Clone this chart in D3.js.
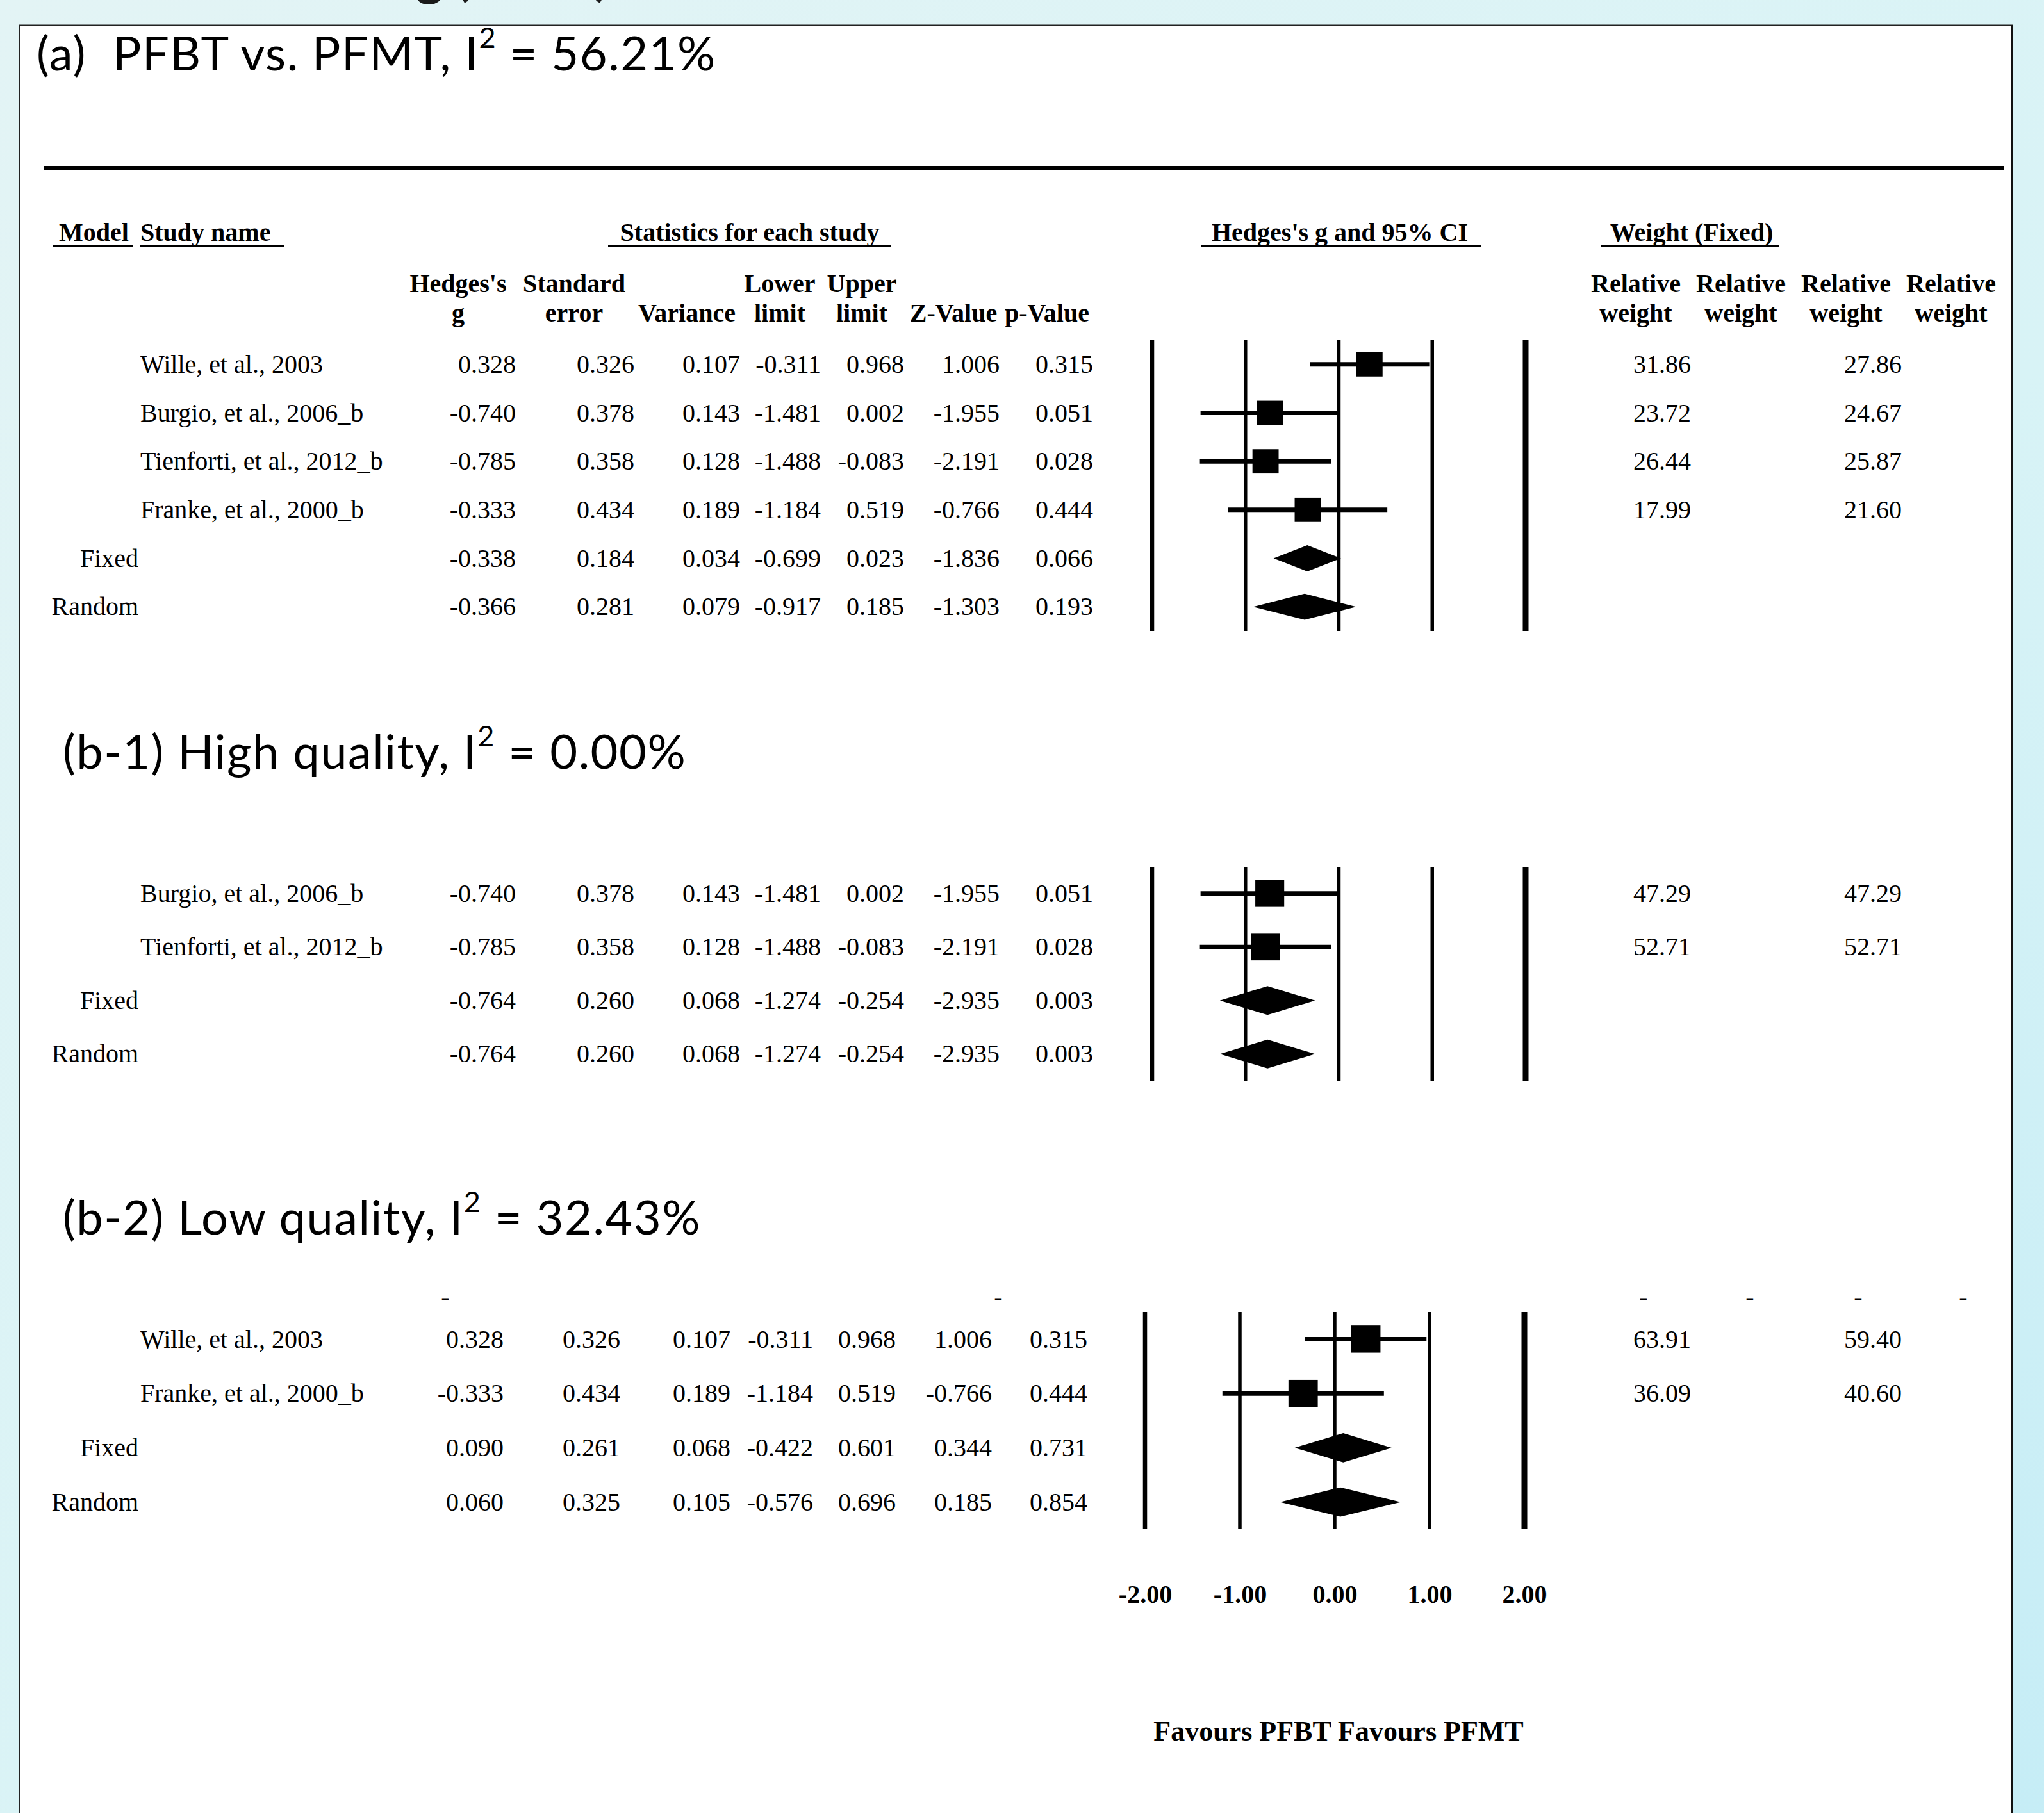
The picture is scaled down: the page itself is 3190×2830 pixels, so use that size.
<!DOCTYPE html>
<html>
<head>
<meta charset="utf-8">
<script src="https://cdn.jsdelivr.net/npm/d3@7"></script>
<style>
  body { margin: 0; }
  svg { display: block; }
</style>
</head>
<body>
<div id="chart"></div>
<script>
const W = 3190, H = 2830;

// (a) PFBT vs. PFMT
const aStudies = ["Wille, et al., 2003", "Burgio, et al., 2006_b", "Tienforti, et al., 2012_b", "Franke, et al., 2000_b", "Fixed", "Random"];
const aG     = [0.328, -0.740, -0.785, -0.333, -0.338, -0.366];
const aSE    = [0.326, 0.378, 0.358, 0.434, 0.184, 0.281];
const aVar   = [0.107, 0.143, 0.128, 0.189, 0.034, 0.079];
const aLower = [-0.311, -1.481, -1.488, -1.184, -0.699, -0.917];
const aUpper = [0.968, 0.002, -0.083, 0.519, 0.023, 0.185];
const aZ     = [1.006, -1.955, -2.191, -0.766, -1.836, -1.303];
const aP     = [0.315, 0.051, 0.028, 0.444, 0.066, 0.193];
const aWFixed  = [31.86, 23.72, 26.44, 17.99];
const aWRandom = [27.86, 24.67, 25.87, 21.60];

// (b-1) high quality
const b1Studies = ["Burgio, et al., 2006_b", "Tienforti, et al., 2012_b", "Fixed", "Random"];
const b1G     = [-0.740, -0.785, -0.764, -0.764];
const b1SE    = [0.378, 0.358, 0.260, 0.260];
const b1Var   = [0.143, 0.128, 0.068, 0.068];
const b1Lower = [-1.481, -1.488, -1.274, -1.274];
const b1Upper = [0.002, -0.083, -0.254, -0.254];
const b1Z     = [-1.955, -2.191, -2.935, -2.935];
const b1P     = [0.051, 0.028, 0.003, 0.003];
const b1WFixed  = [47.29, 52.71];
const b1WRandom = [47.29, 52.71];

// (b-2) low quality
const b2Studies = ["Wille, et al., 2003", "Franke, et al., 2000_b", "Fixed", "Random"];
const b2G     = [0.328, -0.333, 0.090, 0.060];
const b2SE    = [0.326, 0.434, 0.261, 0.325];
const b2Var   = [0.107, 0.189, 0.068, 0.105];
const b2Lower = [-0.311, -1.184, -0.422, -0.576];
const b2Upper = [0.968, 0.519, 0.601, 0.696];
const b2Z     = [1.006, -0.766, 0.344, 0.185];
const b2P     = [0.315, 0.444, 0.731, 0.854];
const b2WFixed  = [63.91, 36.09];
const b2WRandom = [59.40, 40.60];

const ticks = [-2, -1, 0, 1, 2];
const subHeads = [["Hedges's", "g"], ["Standard", "error"], ["", "Variance"], ["Lower", "limit"], ["Upper", "limit"], ["", "Z-Value"], ["", "p-Value"]];

const serif = "'Liberation Serif', 'Times New Roman', serif";
const sans = "Lato, 'Open Sans', sans-serif";

const locale = d3.formatLocale({decimal: ".", thousands: ",", grouping: [3], currency: ["", ""], minus: "-"});
const f3 = locale.format(".3f");
const f2 = locale.format(".2f");

let svg = d3.select("#chart")
    .append("svg")
    .attr("width", W)
    .attr("height", H);

// slide background
let defs = svg.append("defs");
let grad = defs.append("linearGradient")
    .attr("id", "bg")
    .attr("x1", "0").attr("y1", "0").attr("x2", "1").attr("y2", "1");
grad.append("stop").attr("offset", "0").attr("stop-color", "#e3f4f5");
grad.append("stop").attr("offset", "0.6").attr("stop-color", "#d8f3f6");
grad.append("stop").attr("offset", "1").attr("stop-color", "#c6edf6");

svg.append("rect").attr("width", W).attr("height", H).attr("fill", "url(#bg)");

// slide heading, mostly above the visible area
svg.append("text")
    .attr("x", 950).attr("y", -8)
    .attr("text-anchor", "end")
    .style("font-family", sans).style("font-weight", "bold").style("font-size", "80px")
    .attr("fill", "#1a1a1a")
    .text("rating (PFBT)");

// white panel
svg.append("rect")
    .attr("x", 30).attr("y", 39.5)
    .attr("width", 3110).attr("height", H)
    .attr("fill", "#fff")
    .attr("stroke", "#222").attr("stroke-width", 2);
svg.append("line")
    .attr("x1", 3140).attr("x2", 3140).attr("y1", 39).attr("y2", H)
    .attr("stroke", "#111").attr("stroke-width", 4);

// panel titles with superscript
function title(x, y, lead, rest) {
    let t = svg.append("text")
        .attr("x", x).attr("y", y)
        .style("font-family", sans).style("font-size", "74px")
        .style("letter-spacing", "1.5px")
        .attr("fill", "#000");
    t.append("tspan").attr("xml:space", "preserve").text(lead);
    t.append("tspan").attr("dy", -35).style("font-size", "45px").text("2");
    t.append("tspan").attr("dy", 35).attr("xml:space", "preserve").text(rest);
    return t;
}
title(57, 110, "(a)  PFBT vs. PFMT, I", " = 56.21%");
title(98, 1200, "(b-1) High quality, I", " = 0.00%");
title(98, 1927, "(b-2) Low quality, I", " = 32.43%");

// thick rule
svg.append("line")
    .attr("x1", 68).attr("x2", 3128).attr("y1", 262.5).attr("y2", 262.5)
    .attr("stroke", "#000").attr("stroke-width", 7);

// column headers
let head = svg.append("g")
    .style("font-family", serif).style("font-size", "40px").style("font-weight", "bold");

let headers = [
    {t: "Model", x: 92, x1: 83, x2: 207, a: "start"},
    {t: "Study name", x: 219, x1: 219, x2: 443, a: "start"},
    {t: "Statistics for each study", x: 1170, x1: 949, x2: 1390, a: "middle"},
    {t: "Hedges's g and 95% CI", x: 2091, x1: 1874, x2: 2312, a: "middle"},
    {t: "Weight (Fixed)", x: 2640, x1: 2499, x2: 2777, a: "middle"}
];
head.selectAll(".h").data(headers).enter().append("text")
    .attr("x", d => d.x).attr("y", 376)
    .attr("text-anchor", d => d.a)
    .text(d => d.t);
head.selectAll(".u").data(headers).enter().append("line")
    .attr("x1", d => d.x1).attr("x2", d => d.x2)
    .attr("y1", 384).attr("y2", 384)
    .attr("stroke", "#000").attr("stroke-width", 3);

let subX = d3.scaleOrdinal().domain(d3.range(7)).range([715, 896, 1072, 1217, 1345, 1488, 1634]);
subHeads.forEach(function(p, i) {
    head.append("text").attr("x", subX(i)).attr("y", 456).attr("text-anchor", "middle").text(p[0]);
    head.append("text").attr("x", subX(i)).attr("y", 502).attr("text-anchor", "middle").text(p[1]);
});
let relX = d3.scaleOrdinal().domain(d3.range(4)).range([2553, 2717, 2881, 3045]);
d3.range(4).forEach(function(i) {
    head.append("text").attr("x", relX(i)).attr("y", 456).attr("text-anchor", "middle").text("Relative");
    head.append("text").attr("x", relX(i)).attr("y", 502).attr("text-anchor", "middle").text("weight");
});

// one block of table + forest plot
function drawPanel(p, yRange, colRight, x) {
    let g = svg.append("g");
    let n = p.names.length;
    let y = d3.scalePoint().domain(d3.range(n)).range(yRange).padding(0.5);
    let step = y.step();

    let txt = g.append("g")
        .style("font-family", serif).style("font-size", "40px").attr("fill", "#000");

    p.names.forEach(function(name, i) {
        let summary = (name === "Fixed" || name === "Random");
        txt.append("text")
            .attr("x", summary ? 216 : 219)
            .attr("y", y(i)).attr("dy", "0.33em")
            .attr("text-anchor", summary ? "end" : "start")
            .text(name);
        let cols = [p.g[i], p.se[i], p.vr[i], p.lo[i], p.up[i], p.z[i], p.p[i]];
        cols.forEach(function(v, j) {
            txt.append("text")
                .attr("x", colRight(j)).attr("y", y(i)).attr("dy", "0.33em")
                .attr("text-anchor", "end")
                .text(f3(v));
        });
        if (i < p.wf.length) {
            txt.append("text").attr("x", 2639).attr("y", y(i)).attr("dy", "0.33em")
                .attr("text-anchor", "end").text(f2(p.wf[i]));
            txt.append("text").attr("x", 2968).attr("y", y(i)).attr("dy", "0.33em")
                .attr("text-anchor", "end").text(f2(p.wr[i]));
        }
    });

    // reference lines at each tick
    g.selectAll(".ref").data(ticks).enter().append("line")
        .attr("x1", d => x(d)).attr("x2", d => x(d))
        .attr("y1", yRange[0]).attr("y2", yRange[1])
        .attr("stroke", "#000")
        .attr("stroke-width", d => d === 2 ? 9 : (d === -2 ? 6.5 : 5.5));

    let rows = d3.range(n);
    let studies = rows.filter(i => p.names[i] !== "Fixed" && p.names[i] !== "Random");
    let pooled = rows.filter(i => p.names[i] === "Fixed" || p.names[i] === "Random");

    g.selectAll(".ci").data(studies).enter().append("line")
        .attr("x1", i => x(p.lo[i])).attr("x2", i => x(p.up[i]))
        .attr("y1", i => y(i)).attr("y2", i => y(i))
        .attr("stroke", "#000").attr("stroke-width", 7);

    let sw = step * 0.54, sh = step * 0.5;
    g.selectAll(".sq").data(studies).enter().append("rect")
        .attr("x", i => x(p.g[i]) - sw / 2).attr("y", i => y(i) - sh / 2)
        .attr("width", sw).attr("height", sh)
        .attr("fill", "#000");

    let dh = step * 0.27;
    g.selectAll(".dm").data(pooled).enter().append("path")
        .attr("d", i => `M${x(p.lo[i])},${y(i)}L${x(p.g[i])},${y(i) - dh}L${x(p.up[i])},${y(i)}L${x(p.g[i])},${y(i) + dh}Z`)
        .attr("fill", "#000");

    return g;
}

let xA = d3.scaleLinear().domain([-2, 2]).range([1798, 2381]);
let xB = d3.scaleLinear().domain([-2, 2]).range([1787, 2379]);
let colA = d3.scaleOrdinal().domain(d3.range(7)).range([805, 990, 1155, 1281, 1411, 1560, 1706]);
let colB = d3.scaleOrdinal().domain(d3.range(7)).range([786, 968, 1140, 1269, 1398, 1548, 1697]);

drawPanel({names: aStudies, g: aG, se: aSE, vr: aVar, lo: aLower, up: aUpper, z: aZ, p: aP, wf: aWFixed, wr: aWRandom},
    [531, 985], colA, xA);
drawPanel({names: b1Studies, g: b1G, se: b1SE, vr: b1Var, lo: b1Lower, up: b1Upper, z: b1Z, p: b1P, wf: b1WFixed, wr: b1WRandom},
    [1353, 1687], colA, xA);
drawPanel({names: b2Studies, g: b2G, se: b2SE, vr: b2Var, lo: b2Lower, up: b2Upper, z: b2Z, p: b2P, wf: b2WFixed, wr: b2WRandom},
    [2048, 2387], colB, xB);

// stray header dashes left over above (b-2)
svg.append("g")
    .style("font-family", serif).style("font-size", "40px").style("font-weight", "bold")
    .selectAll("text").data([695, 1558, 2565, 2731, 2900, 3064]).enter().append("text")
    .attr("x", d => d).attr("y", 2038).attr("text-anchor", "middle")
    .text("-");

// axis under the last plot
let axis = svg.append("g")
    .attr("transform", "translate(0, 2474)")
    .call(d3.axisBottom(xB).tickValues(ticks).tickSize(0).tickPadding(0).tickFormat(f2));
axis.select(".domain").remove();
axis.selectAll("text")
    .style("font-family", serif).style("font-size", "40px").style("font-weight", "bold")
    .attr("fill", "#000");

svg.append("text")
    .attr("x", 2089).attr("y", 2717)
    .attr("text-anchor", "middle")
    .style("font-family", serif).style("font-size", "44px").style("font-weight", "bold")
    .text("Favours PFBT Favours PFMT");
</script>
</body>
</html>
